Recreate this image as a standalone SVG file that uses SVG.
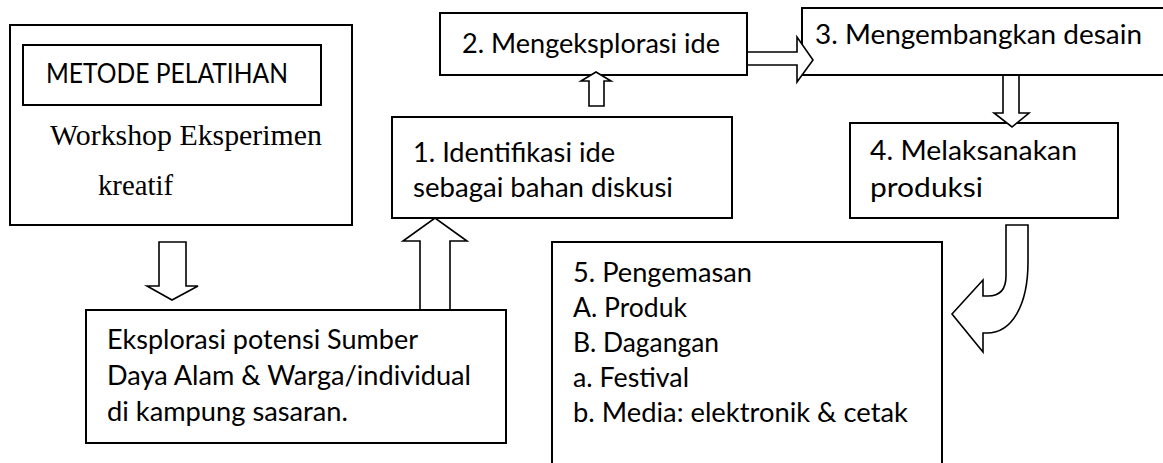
<svg xmlns="http://www.w3.org/2000/svg" width="1163" height="463" viewBox="0 0 1163 463">
<style>
.box{fill:#fff;stroke:#000;stroke-width:2}
.arr{fill:#fff;stroke:#000;stroke-width:1.6;stroke-linejoin:miter}
.t{font-family:Lato,"Open Sans","Liberation Sans",sans-serif;font-size:27px;fill:#000}
.s{font-family:"Liberation Serif","Times New Roman",serif;font-size:29.3px;fill:#000}
</style>
<rect width="1163" height="463" fill="#fff"/>
<g id="node-metode">
<rect class="box" x="10" y="25" width="342" height="200"/>
<rect class="box" x="23" y="45" width="298" height="60"/>
<text class="t" x="46" y="83" textLength="242" lengthAdjust="spacingAndGlyphs">METODE PELATIHAN</text>
<text class="s" x="50" y="145" textLength="272" lengthAdjust="spacingAndGlyphs">Workshop Eksperimen</text>
<text class="s" x="98" y="195" textLength="75" lengthAdjust="spacingAndGlyphs">kreatif</text>
</g>
<g id="node-eksplorasi">
<rect class="box" x="86" y="310" width="420" height="133"/>
<text class="t" x="107" y="349" textLength="311" lengthAdjust="spacingAndGlyphs">Eksplorasi potensi Sumber</text>
<text class="t" x="107" y="385" textLength="364" lengthAdjust="spacingAndGlyphs">Daya Alam &amp; Warga/individual</text>
<text class="t" x="107" y="421" textLength="241" lengthAdjust="spacingAndGlyphs">di kampung sasaran.</text>
</g>
<g id="node-1">
<rect class="box" x="392" y="117" width="340" height="101"/>
<text class="t" x="413" y="162" textLength="202" lengthAdjust="spacingAndGlyphs">1. Identifikasi ide</text>
<text class="t" x="413" y="197" textLength="260" lengthAdjust="spacingAndGlyphs">sebagai bahan diskusi</text>
</g>
<g id="node-2">
<rect class="box" x="440" y="13" width="307" height="62"/>
<text class="t" x="462" y="53" textLength="258" lengthAdjust="spacingAndGlyphs">2. Mengeksplorasi ide</text>
</g>
<g id="node-3">
<rect class="box" x="802" y="8" width="370" height="67"/>
<text class="t" x="815" y="44" textLength="327" lengthAdjust="spacingAndGlyphs">3. Mengembangkan desain</text>
</g>
<g id="node-4">
<rect class="box" x="850" y="123" width="268" height="95"/>
<text class="t" x="870" y="160" textLength="207" lengthAdjust="spacingAndGlyphs">4. Melaksanakan</text>
<text class="t" x="870" y="197" textLength="113" lengthAdjust="spacingAndGlyphs">produksi</text>
</g>
<g id="node-5">
<rect class="box" x="552" y="242" width="390" height="240"/>
<text class="t" x="573" y="282" textLength="179" lengthAdjust="spacingAndGlyphs">5. Pengemasan</text>
<text class="t" x="573" y="317" textLength="114" lengthAdjust="spacingAndGlyphs">A. Produk</text>
<text class="t" x="573" y="352" textLength="146" lengthAdjust="spacingAndGlyphs">B. Dagangan</text>
<text class="t" x="573" y="387" textLength="116" lengthAdjust="spacingAndGlyphs">a. Festival</text>
<text class="t" x="573" y="422" textLength="335" lengthAdjust="spacingAndGlyphs">b. Media: elektronik &amp; cetak</text>
</g>
<g id="connectors">
<path class="arr" d="M159,242 H186 V286 H198 L172,300 L147,286 H159 Z"/>
<path class="arr" d="M420,309 V241 H403 L435,218 L467,241 H450 V309"/>
<path class="arr" d="M589,106 V81 H581 L596,72 L611,81 H604 V106 Z"/>
<path class="arr" d="M748,52 H797 V37 L813,60 L797,82 V65 H748"/>
<path class="arr" d="M1003,76 V113 H994 L1012,127 L1029,113 H1019 V76"/>
<path class="arr" d="M1006,225 H1028 V262 C1028,305 1012,333 987,333 H983 V352 L952,314 L983,280 V296 H988 C999,296 1006,290 1006,276 Z"/>
</g>
</svg>
